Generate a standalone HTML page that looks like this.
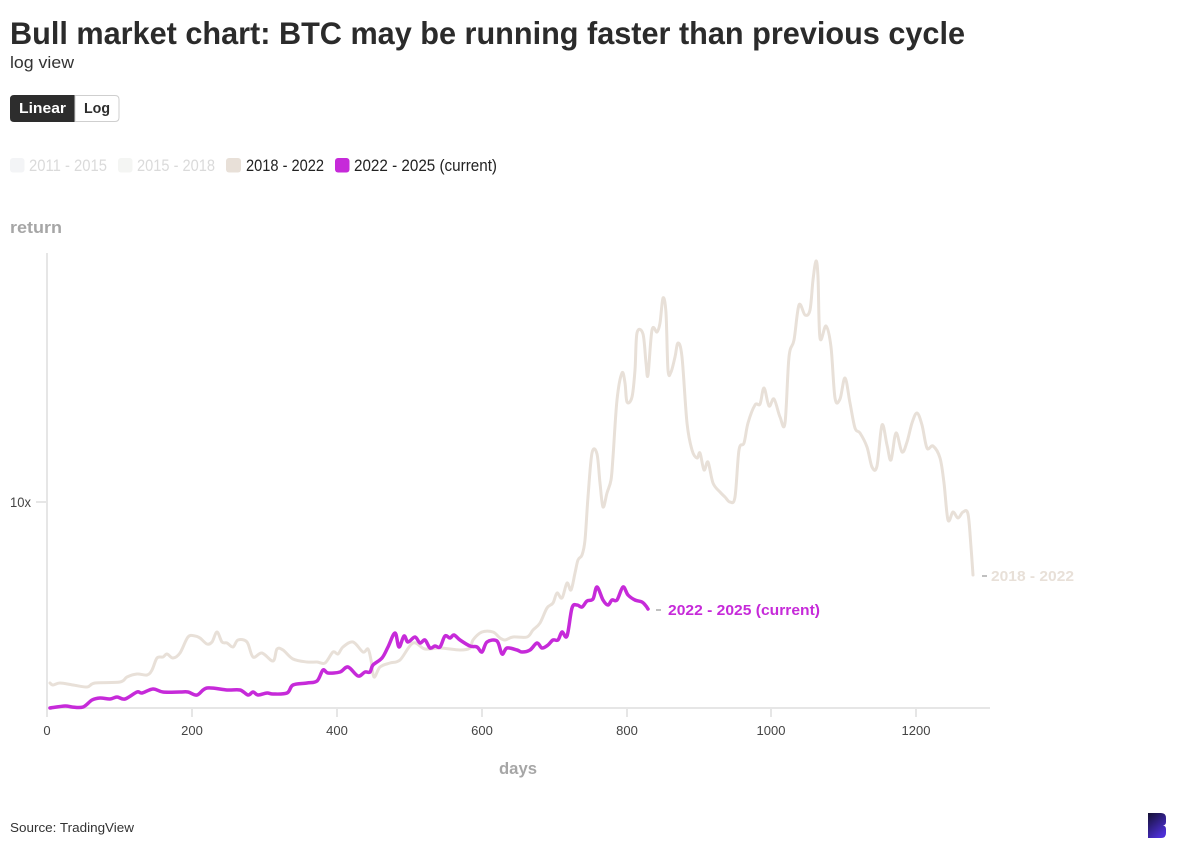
<!DOCTYPE html>
<html><head><meta charset="utf-8"><style>
html,body{margin:0;padding:0;background:#fff;}
svg{display:block;}
text{font-family:"Liberation Sans",sans-serif;}
</style></head><body>
<svg width="1181" height="854" viewBox="0 0 1181 854" xmlns="http://www.w3.org/2000/svg">
<defs>
<linearGradient id="lg" x1="0" y1="0" x2="0.6" y2="1">
<stop offset="0" stop-color="#141033"/><stop offset="1" stop-color="#4d2fd6"/>
</linearGradient>
</defs>
<rect width="1181" height="854" fill="#fff"/>
<text x="10" y="44" font-size="31.5" font-weight="bold" fill="#2b2b2b" textLength="955" lengthAdjust="spacingAndGlyphs">Bull market chart: BTC may be running faster than previous cycle</text>
<text x="10" y="68" font-size="17" fill="#333" textLength="64" lengthAdjust="spacingAndGlyphs">log view</text>

<!-- buttons -->
<path d="M14,95 H75 V122 H14 Q10,122 10,118 V99 Q10,95 14,95 Z" fill="#2d2d2d"/>
<path d="M75,95.5 H115 Q119,95.5 119,99.5 V117.5 Q119,121.5 115,121.5 H75 Z" fill="#fff" stroke="#cfcfcf" stroke-width="1"/>
<text x="19" y="113" font-size="14.5" font-weight="bold" fill="#fff" textLength="47" lengthAdjust="spacingAndGlyphs">Linear</text>
<text x="84" y="113" font-size="14.5" font-weight="bold" fill="#2d2d2d" textLength="26" lengthAdjust="spacingAndGlyphs">Log</text>

<!-- legend -->
<rect x="10" y="158" width="14.5" height="14.5" rx="3" fill="#f3f4f6"/>
<text x="29" y="171" font-size="16.5" fill="#dadada" textLength="78" lengthAdjust="spacingAndGlyphs">2011 - 2015</text>
<rect x="118" y="158" width="14.5" height="14.5" rx="3" fill="#f4f5f3"/>
<text x="137" y="171" font-size="16.5" fill="#dadada" textLength="78" lengthAdjust="spacingAndGlyphs">2015 - 2018</text>
<rect x="226" y="158" width="15" height="14.5" rx="3" fill="#e8e0d8"/>
<text x="246" y="171" font-size="16.5" fill="#222" textLength="78" lengthAdjust="spacingAndGlyphs">2018 - 2022</text>
<rect x="335" y="158" width="14.5" height="14.5" rx="3" fill="#c62ad9"/>
<text x="354" y="171" font-size="16.5" fill="#222" textLength="143" lengthAdjust="spacingAndGlyphs">2022 - 2025 (current)</text>

<text x="10" y="233" font-size="17" font-weight="bold" fill="#a6a6a6" textLength="52" lengthAdjust="spacingAndGlyphs">return</text>

<!-- axes -->
<line x1="47" y1="253" x2="47" y2="709" stroke="#e6e6e6" stroke-width="2"/>
<line x1="46" y1="708" x2="990" y2="708" stroke="#e6e6e6" stroke-width="2"/>
<line x1="36" y1="502" x2="47" y2="502" stroke="#e6e6e6" stroke-width="2"/>
<text x="10" y="507" font-size="13.5" fill="#444" textLength="21" lengthAdjust="spacingAndGlyphs">10x</text>
<g stroke="#e6e6e6" stroke-width="2">
<line x1="47" y1="708" x2="47" y2="717"/>
<line x1="192" y1="708" x2="192" y2="717"/>
<line x1="337" y1="708" x2="337" y2="717"/>
<line x1="482" y1="708" x2="482" y2="717"/>
<line x1="627" y1="708" x2="627" y2="717"/>
<line x1="771" y1="708" x2="771" y2="717"/>
<line x1="916" y1="708" x2="916" y2="717"/>
</g>
<g font-size="13" fill="#444" text-anchor="middle">
<text x="47" y="735">0</text>
<text x="192" y="735">200</text>
<text x="337" y="735">400</text>
<text x="482" y="735">600</text>
<text x="627" y="735">800</text>
<text x="771" y="735">1000</text>
<text x="916" y="735">1200</text>
</g>
<text x="499" y="774" font-size="17" font-weight="bold" fill="#a6a6a6" textLength="38" lengthAdjust="spacingAndGlyphs">days</text>

<!-- tan series -->
<polyline id="tan" fill="none" stroke="#e8e0d8" stroke-width="3" stroke-linejoin="round" stroke-linecap="round" points="50,683 53,685 60,683 73,685 87,687 95,683 120,682 127,677 137,674 147,675 152,670 157,658 163,657 167,654 173,658 180,653 188,637 195,636 200,638 207,644 212,642 217,632 222,642 227,643 233,647 238,640 247,642 253,657 262,653 273,661 277,649 283,650 293,659 307,662 317,662 325,663 333,652 338,654 343,647 353,642 363,652 368,649 371,660 374,677 380,667 390,663 400,660 413,643 425,649 440,648 460,650 470,648 473,640 482,632 493,632 500,638 505,640 513,637 527,637 533,630 540,623 547,608 553,603 557,593 562,598 567,583 571,590 575,573 578,560 582,555 585,540 588,497 592,453 597,454 600,483 603,507 607,493 611,480 613,457 617,400 622,373 625,383 627,402 632,397 635,370 637,333 643,334 646,363 648,375 652,330 657,332 660,323 663,298 666,313 668,370 671,372 675,357 678,343 682,357 687,423 692,450 697,458 700,453 704,470 708,462 713,483 720,492 725,497 730,502 735,497 739,450 744,443 748,423 755,405 760,404 764,388 769,406 774,399 780,417 785,423 789,357 794,340 799,305 805,315 810,310 813,280 816,261 818,277 820,338 826,326 831,347 835,398 840,399 845,378 850,403 855,428 860,433 867,447 872,467 877,466 882,425 887,445 891,460 896,433 902,452 907,442 912,423 917,413 922,425 927,448 933,446 940,458 944,483 948,520 953,512 958,518 963,512 968,514 971,547 973,575"/>

<!-- purple series -->
<polyline id="pur" fill="none" stroke="#c62ad9" stroke-width="3.5" stroke-linejoin="round" stroke-linecap="round" points="50,708 65,706 72,707 83,707 92,700 100,698 110,699 117,697 125,699 137,692 142,693 153,689 163,692 180,692 188,692 197,695 207,688 227,690 240,690 248,695 253,692 258,695 267,693 273,694 287,693 293,685 307,683 317,681 323,670 328,673 340,672 348,667 358,676 365,672 370,672 373,665 382,658 388,647 395,633 399,647 404,636 408,642 415,637 420,643 425,640 430,648 435,646 440,647 445,636 450,638 454,635 460,640 470,646 477,647 482,652 487,642 497,641 502,654 507,648 517,650 522,652 530,650 537,643 542,648 548,645 553,640 558,640 562,632 567,636 572,608 577,605 582,607 587,601 593,599 597,587 603,600 608,605 612,600 617,600 623,587 628,595 635,600 642,602 646,606 648,609"/>

<!-- series labels -->
<line x1="656" y1="610" x2="661" y2="610" stroke="#aaa" stroke-width="1.5"/>
<text x="668" y="615" font-size="14.5" font-weight="bold" fill="#c62ad9" textLength="152" lengthAdjust="spacingAndGlyphs">2022 - 2025 (current)</text>
<line x1="982" y1="576" x2="987" y2="576" stroke="#aaa" stroke-width="1.5"/>
<text x="991" y="581" font-size="14.5" font-weight="bold" fill="#e8e0d8" textLength="83" lengthAdjust="spacingAndGlyphs">2018 - 2022</text>

<text x="10" y="832" font-size="13" fill="#333" textLength="124" lengthAdjust="spacingAndGlyphs">Source: TradingView</text>

<!-- logo -->
<path d="M1148,813 H1161 Q1166,813 1166,818 V822 Q1166,825 1163,825.5 Q1166,826 1166,829 V833 Q1166,838 1161,838 H1148 Z" fill="url(#lg)"/>
</svg>
<script>
(function(){
  function smooth(id){
    var pl=document.getElementById(id);
    if(!pl) return;
    var pts=pl.getAttribute('points').trim().split(/\s+/).map(function(s){var a=s.split(',');return [+a[0],+a[1]];});
    var d='M'+pts[0][0]+','+pts[0][1];
    var t=0.5/3*1.0;
    for(var i=0;i<pts.length-1;i++){
      var p0=pts[i-1]||pts[i],p1=pts[i],p2=pts[i+1],p3=pts[i+2]||p2;
      var c1x=p1[0]+(p2[0]-p0[0])*t,c1y=p1[1]+(p2[1]-p0[1])*t;
      var c2x=p2[0]-(p3[0]-p1[0])*t,c2y=p2[1]-(p3[1]-p1[1])*t;
      d+=' C'+c1x.toFixed(2)+','+c1y.toFixed(2)+' '+c2x.toFixed(2)+','+c2y.toFixed(2)+' '+p2[0]+','+p2[1];
    }
    var ns='http://www.w3.org/2000/svg';
    var p=document.createElementNS(ns,'path');
    p.setAttribute('d',d);
    ['fill','stroke','stroke-width','stroke-linejoin','stroke-linecap'].forEach(function(a){p.setAttribute(a,pl.getAttribute(a));});
    pl.parentNode.replaceChild(p,pl);
  }
  smooth('tan');smooth('pur');
})();
</script>
</body></html>
